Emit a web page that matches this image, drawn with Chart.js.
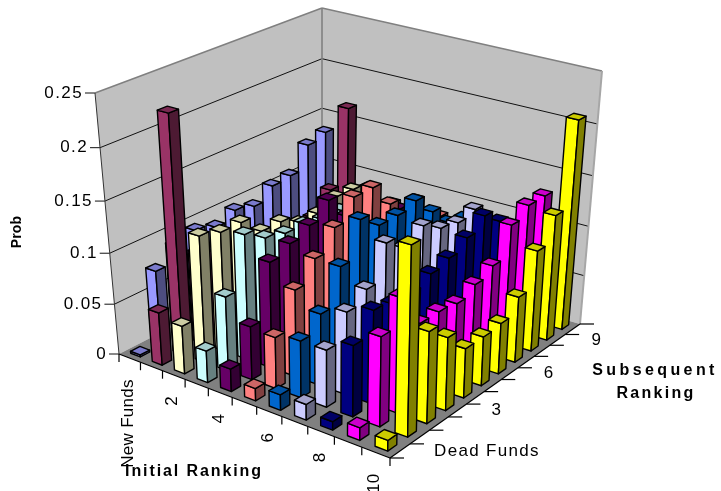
<!DOCTYPE html>
<html lang="en">
<head>
<meta charset="UTF-8" />
<title>Prob by Initial and Subsequent Ranking</title>
<script src="https://cdn.jsdelivr.net/npm/chart.js@4.4.0/dist/chart.umd.min.js"></script>
<style>
  body { margin: 0; background: #fff; }
  canvas { display: block; }
</style>
</head>
<body>
<canvas id="chart" width="721" height="491"></canvas>
<script>
// axis categories
const subsequentCats = ['Dead Funds', '1', '2', '3', '4', '5', '6', '7', '8', '9', '10'];
const initialCats = ['New Funds', '1', '2', '3', '4', '5', '6', '7', '8', '9', '10'];
const probTicks = [0, 0.05, 0.1, 0.15, 0.2, 0.25];
const probTickLabels = ['0', '0.05', '0.1', '0.15', '0.2', '0.25'];

// one array per initial ranking, values by subsequent ranking
const newFunds = [0.002, 0.075, 0.09, 0.096, 0.09, 0.098, 0.093, 0.105, 0.107, 0.13, 0.135];
const rank1 = [0.052, 0.232, 0.09, 0.08, 0.07, 0.07, 0.07, 0.06, 0.07, 0.09, 0.165];
const rank2 = [0.047, 0.124, 0.118, 0.118, 0.1, 0.1, 0.09, 0.09, 0.098, 0.097, 0.09];
const rank3 = [0.031, 0.073, 0.123, 0.11, 0.105, 0.105, 0.1, 0.1, 0.09, 0.08, 0.08];
const rank4 = [0.022, 0.052, 0.104, 0.112, 0.12, 0.135, 0.11, 0.115, 0.1, 0.09, 0.09];
const rank5 = [0.012, 0.05, 0.085, 0.105, 0.125, 0.145, 0.145, 0.12, 0.095, 0.08, 0.08];
const rank6 = [0.015, 0.055, 0.07, 0.105, 0.14, 0.125, 0.125, 0.13, 0.11, 0.09, 0.085];
const rank7 = [0.015, 0.055, 0.08, 0.091, 0.125, 0.11, 0.122, 0.11, 0.106, 0.11, 0.085];
const rank8 = [0.008, 0.068, 0.09, 0.085, 0.085, 0.093, 0.098, 0.108, 0.12, 0.105, 0.09];
const rank9 = [0.012, 0.085, 0.11, 0.075, 0.075, 0.072, 0.08, 0.088, 0.118, 0.128, 0.128];
const rank10 = [0.01, 0.176, 0.087, 0.07, 0.048, 0.048, 0.05, 0.065, 0.1, 0.125, 0.208];
const rows = [newFunds, rank1, rank2, rank3, rank4, rank5, rank6, rank7, rank8, rank9, rank10];

const rowColors = ['#9999FF', '#993366', '#FFFFCC', '#CCFFFF', '#660066', '#FF8080',
                   '#0066CC', '#CCCCFF', '#000080', '#FF00FF', '#FFFF00'];

// box corners on screen: floor and ceiling as [u0v0, u1v0, u1v1, u0v1]
const floorQuad = [[119, 354], [322, 250], [580, 324], [390, 458]];
const roofQuad = [[95, 93], [322, 8], [602, 71], [394, 175]];
const barFrac = 0.45;

// unit square -> quad, projective
function quadMapper(q) {
  const [p0, p1, p2, p3] = q;
  const dx1 = p1[0] - p2[0], dx2 = p3[0] - p2[0], sx = p0[0] - p1[0] + p2[0] - p3[0];
  const dy1 = p1[1] - p2[1], dy2 = p3[1] - p2[1], sy = p0[1] - p1[1] + p2[1] - p3[1];
  const den = dx1 * dy2 - dx2 * dy1;
  const g = (sx * dy2 - dx2 * sy) / den;
  const h = (dx1 * sy - sx * dy1) / den;
  const a = p1[0] - p0[0] + g * p1[0], b = p3[0] - p0[0] + h * p3[0];
  const d = p1[1] - p0[1] + g * p1[1], e = p3[1] - p0[1] + h * p3[1];
  return (u, v) => {
    const w = g * u + h * v + 1;
    return [(a * u + b * v + p0[0]) / w, (d * u + e * v + p0[1]) / w];
  };
}
const floorAt = quadMapper(floorQuad);
const roofAt = quadMapper(roofQuad);

function project(u, v, t) {
  const k = t / (t + (1 - t) * 1.06);  // upper levels sit a little further apart
  const a = floorAt(u, v), b = roofAt(u, v);
  return [a[0] + (b[0] - a[0]) * k, a[1] + (b[1] - a[1]) * k];
}

function poly(ctx, pts, fill) {
  ctx.beginPath();
  pts.forEach((p, i) => i ? ctx.lineTo(p[0], p[1]) : ctx.moveTo(p[0], p[1]));
  ctx.closePath();
  if (fill) { ctx.fillStyle = fill; ctx.fill(); }
}

function seg(ctx, a, b) {
  ctx.beginPath();
  ctx.moveTo(a[0], a[1]);
  ctx.lineTo(b[0], b[1]);
  ctx.stroke();
}

function shade(hex, f) {
  const n = parseInt(hex.slice(1), 16);
  const c = [n >> 16, (n >> 8) & 255, n & 255].map(x => Math.round(x * f));
  return `rgb(${c[0]},${c[1]},${c[2]})`;
}

function text(ctx, str, x, y, font, align, spacing, rot) {
  ctx.save();
  ctx.translate(x, y);
  if (rot) ctx.rotate(rot);
  ctx.font = font;
  ctx.fillStyle = '#000';
  ctx.textAlign = align;
  ctx.textBaseline = 'middle';
  ctx.letterSpacing = spacing;
  ctx.fillText(str, 0, 0);
  ctx.restore();
}

const box3d = {
  id: 'box3d',
  // bars are drawn here in projected form instead of the flat default
  beforeDatasetsDraw(chart) {
    const ctx = chart.ctx;
    const { x, y, row } = chart.scales;
    const area = chart.chartArea;
    const uOf = i => (x.getPixelForValue(i) - area.left) / area.width;
    const vOf = i => (row.getPixelForValue(i) - area.left) / area.width;
    const tOf = val => (area.bottom - y.getPixelForValue(val)) / area.height;
    const half = barFrac / 2 / subsequentCats.length;

    ctx.save();
    ctx.lineJoin = 'round';

    // walls and floor
    poly(ctx, [project(0, 0, 0), project(1, 0, 0), project(1, 0, 1), project(0, 0, 1)], '#C0C0C0');
    poly(ctx, [project(1, 0, 0), project(1, 1, 0), project(1, 1, 1), project(1, 0, 1)], '#C0C0C0');
    poly(ctx, [project(0, 0, 0), project(1, 0, 0), project(1, 1, 0), project(0, 1, 0)], '#808080');

    // gridlines across both walls, ticks on the left edge
    ctx.strokeStyle = '#111';
    ctx.lineWidth = 1;
    probTicks.forEach((tick, i) => {
      const t = tOf(tick);
      const left = project(0, 0, t);
      if (i > 0 && i < probTicks.length - 1) {
        seg(ctx, left, project(1, 0, t));
        seg(ctx, project(1, 0, t), project(1, 1, t));
      }
      seg(ctx, [left[0] - 10, left[1]], left);
      text(ctx, probTickLabels[i], left[0] - 12, left[1], '17px "Liberation Sans"', 'right', '1.4px');
    });

    // wall borders
    ctx.strokeStyle = '#808080';
    ctx.lineWidth = 1.6;
    seg(ctx, project(0, 0, 1), project(1, 0, 1));
    seg(ctx, project(1, 0, 1), project(1, 1, 1));
    seg(ctx, project(1, 0, 0), project(1, 0, 1));
    ctx.strokeStyle = '#A6A6A6';
    ctx.lineWidth = 2;
    seg(ctx, project(1, 1, 0), project(1, 1, 1));
    ctx.strokeStyle = '#333';
    ctx.lineWidth = 1;
    seg(ctx, project(0, 0, 0), project(0, 0, 1));

    // floor edges and tick marks
    ctx.strokeStyle = '#000';
    ctx.lineWidth = 1.2;
    seg(ctx, project(0, 0, 0), project(0, 1, 0));
    seg(ctx, project(0, 1, 0), project(1, 1, 0));
    const n = subsequentCats.length;
    for (let i = 0; i <= n; i++) {
      const p = project(0, i / n, 0);
      seg(ctx, p, [p[0], p[1] + 8]);
      const q = project(i / n, 1, 0);
      seg(ctx, q, [q[0] + 14, q[1]]);
    }

    // far corner first so nearer boxes paint over
    ctx.strokeStyle = '#000';
    ctx.lineWidth = 1.4;
    chart.data.datasets.forEach((ds, r) => {
      const color = ds.backgroundColor;
      const v = vOf(r);
      for (let c = ds.data.length - 1; c >= 0; c--) {
        const u = uOf(c);
        const t = tOf(ds.data[c]);
        const u0 = u - half, u1 = u + half, v0 = v - half, v1 = v + half;
        const near = project(u0, v1, 0), nearTop = project(u0, v1, t);
        const a = project(u0, v0, 0), aTop = project(u0, v0, t);
        const b = project(u1, v1, 0), bTop = project(u1, v1, t);
        const backTop = project(u1, v0, t);
        poly(ctx, [a, near, nearTop, aTop], color);
        ctx.stroke();
        poly(ctx, [near, b, bTop, nearTop], shade(color, 0.5));
        ctx.stroke();
        poly(ctx, [aTop, nearTop, bTop, backTop], shade(color, 0.8));
        ctx.stroke();
      }
    });
    ctx.restore();

    // category labels under the two floor edges
    subsequentCats.forEach((name, i) => {
      if (i % 3) return;
      const p = project(uOf(i), 1, 0);
      text(ctx, name, p[0] + 34, p[1], '17px "Liberation Sans"', 'left', '1.3px');
    });
    initialCats.forEach((name, i) => {
      if (i % 2) return;
      const p = project(0, vOf(i), 0);
      text(ctx, name, p[0] - 1, p[1] + 21, '17px "Liberation Sans"', 'right', '0.3px', -Math.PI / 2);
    });

    text(ctx, 'Prob', 17, 232, 'bold 14px "Liberation Sans"', 'center', '0.2px', -Math.PI / 2);
    text(ctx, 'Initial Ranking', 194, 472, 'bold 16px "Liberation Sans"', 'center', '1.9px');
    text(ctx, 'Subsequent', 655, 371, 'bold 16px "Liberation Sans"', 'center', '3.4px');
    text(ctx, 'Ranking', 656, 394, 'bold 16px "Liberation Sans"', 'center', '2.3px');
    return false;
  }
};

new Chart(document.getElementById('chart'), {
  type: 'bar',
  data: {
    labels: subsequentCats,
    datasets: rows.map((data, i) => ({ label: initialCats[i], data, backgroundColor: rowColors[i] }))
  },
  options: {
    responsive: false,
    animation: false,
    layout: { padding: 0 },
    plugins: { legend: { display: false }, tooltip: { enabled: false } },
    scales: {
      x: { type: 'category', display: false, offset: true },
      row: { type: 'category', axis: 'x', labels: initialCats, display: false, offset: true },
      y: { type: 'linear', display: false, min: 0, max: 0.25 }
    }
  },
  plugins: [box3d]
});
</script>
</body>
</html>
